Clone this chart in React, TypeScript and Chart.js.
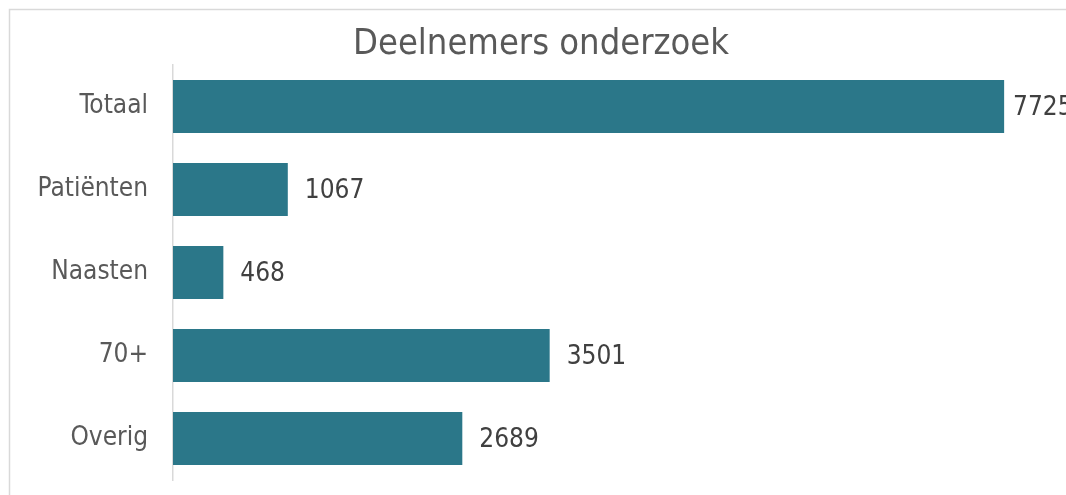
import React, { useEffect, useRef } from "react";
import { Chart, registerables } from "chart.js";

Chart.register(...registerables);

const categories = ["Totaal", "Patiënten", "Naasten", "70+", "Overig"];
const values = [7725, 1067, 468, 3501, 2689];
const titleText = "Deelnemers onderzoek";

const FONT = "'DejaVu Sans Condensed', 'DejaVu Sans', sans-serif";

const framePlugin = {
  id: "frame",
  beforeDraw(chart: any) {
    const ctx = chart.ctx;
    ctx.save();
    ctx.fillStyle = "#ffffff";
    ctx.fillRect(0, 0, chart.width, chart.height);
    ctx.strokeStyle = "#d9d9d9";
    ctx.lineWidth = 1.5;
    ctx.strokeRect(9.5, 9.5, chart.width + 100, chart.height + 100);
    ctx.fillStyle = "#595959";
    ctx.font = `36px ${FONT}`;
    ctx.textAlign = "center";
    ctx.textBaseline = "alphabetic";
    ctx.fillText(titleText, 541, 54);
    ctx.restore();
  },
  afterDatasetsDraw(chart: any) {
    const ctx = chart.ctx;
    const meta = chart.getDatasetMeta(0);
    ctx.save();
    ctx.fillStyle = "#404040";
    ctx.font = `26px ${FONT}`;
    ctx.textAlign = "left";
    ctx.textBaseline = "middle";
    meta.data.forEach((bar: any, i: number) => {
      const x = Math.min(bar.x + 17, chart.width - 53);
      ctx.fillText(String(values[i]), x, bar.y + 2);
    });
    ctx.restore();
  },
};

export default function App() {
  const ref = useRef<HTMLCanvasElement>(null);
  useEffect(() => {
    document.body.style.margin = "0";
    const chart = new Chart(ref.current!, {
      type: "bar",
      data: {
        labels: categories,
        datasets: [
          {
            data: values,
            backgroundColor: "#2b7789",
            categoryPercentage: 1,
            barPercentage: 0.64,
          },
        ],
      },
      options: {
        indexAxis: "y",
        animation: false,
        responsive: false,
        layout: { padding: { top: 65, bottom: 15, left: 0, right: 0 } },
        plugins: { legend: { display: false }, title: { display: false }, tooltip: { enabled: false } },
        scales: {
          x: { display: false, min: 0, max: 8300 },
          y: {
            afterFit: (s: any) => {
              s.width = 173;
              s.paddingTop = 0;
              s.paddingBottom = 0;
            },
            grid: { display: false },
            border: { display: true, color: "#d9d9d9", width: 1.5 },
            ticks: { color: "#595959", font: { family: FONT, size: 26 }, padding: 17 },
          },
        },
      },
      plugins: [framePlugin],
    });
    return () => chart.destroy();
  }, []);
  return <canvas ref={ref} width={1066} height={495} style={{ display: "block" }} />;
}
